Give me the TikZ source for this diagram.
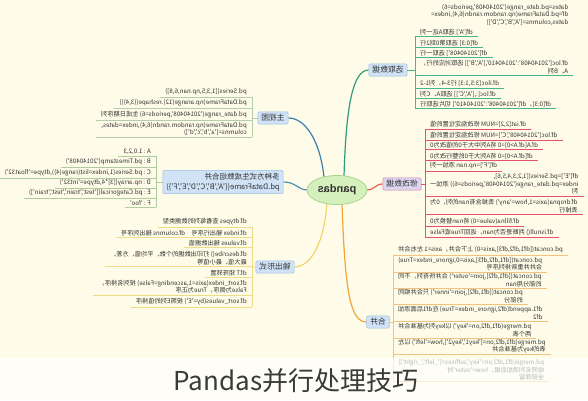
\documentclass[tikz,border=0pt]{standalone}
\usepackage{fontspec}
\setmainfont{Noto Sans CJK SC}[Ligatures=TeXOff]
\newfontfamily\latf{Liberation Sans}
\definecolor{bgc}{HTML}{FEFCE8}
\definecolor{txtc}{HTML}{333333}
\definecolor{capc}{HTML}{3A3A3A}
\definecolor{ctrfill}{HTML}{D5EFBD}
\definecolor{ctrbd}{HTML}{A9D68E}
\definecolor{cSel}{HTML}{2E9C78}
\definecolor{selln}{HTML}{4BB38E}
\definecolor{cMod}{HTML}{E2604F}
\definecolor{modln}{HTML}{E9506E}
\definecolor{cMer}{HTML}{F0A53C}
\definecolor{merln}{HTML}{F4C27C}
\definecolor{cZhu}{HTML}{3B7FAE}
\definecolor{zhuln}{HTML}{B5CCAD}
\definecolor{cGen}{HTML}{4B8FB2}
\definecolor{genln}{HTML}{AECCA0}
\definecolor{cOut}{HTML}{F0D46C}
\definecolor{outln}{HTML}{F1DC86}
\definecolor{tfill}{HTML}{CFE2F6}
\definecolor{tbd}{HTML}{9DBFE0}
\definecolor{modfill}{HTML}{DCD6F0}
\definecolor{modbd}{HTML}{E27AA0}
\pgfdeclarelayer{bgl}
\pgfdeclarelayer{lines}
\pgfsetlayers{bgl,lines,main}
\tikzset{
  leaf/.style={font=\fontsize{6.2}{7.4}\selectfont, text=txtc, inner xsep=5pt, inner ysep=1.4pt, align=left},
  leafR/.style={leaf, anchor=east},
  leafL/.style={leaf, anchor=west},
  topic/.style={font=\fontsize{7.8}{9.5}\selectfont, text=txtc, rounded corners=1.2pt, inner xsep=3.5pt, inner ysep=2.5pt, line width=0.5pt, draw=tbd, fill=tfill, align=left},
  ctrst/.style={ellipse, draw=ctrbd, fill=ctrfill, line width=0.8pt, minimum width=60pt, minimum height=29pt, inner sep=0pt, font=\latf\bfseries\fontsize{11}{13}\selectfont, text=txtc},
  conn/.style={line width=1.2pt},
  brk/.style={line width=0.6pt},
}
\usetikzlibrary{shapes.geometric}
\begin{document}
\begin{tikzpicture}[x=1pt,y=-1pt]
\begin{pgfonlayer}{bgl}
\fill[bgc] (0,0) rectangle (588,400);
\end{pgfonlayer}
\useasboundingbox (0,0) rectangle (588,400);
\begin{scope}[xscale=-1, transform shape, x={(-1pt,0pt)}]
  \node[ctrst] (ctr) at (337,190) {pandas};
  % branch topics
  \node[topic] (sel) at (388,70) {选取数据};
  \node[topic, draw=modbd, fill=modfill] (mod) at (402,184) {修改数据};
  \node[topic] (mer) at (378,322) {合并};
  \node[topic] (zhu) at (273,118) {主视图};
  \node[topic, font=\fontsize{7.5}{10}\selectfont] (gen) at (223,182) {多种方式生成数组合并\\pd.DataFrame(\{'A','B','C','D','E','F'\})};
  \node[topic] (out) at (275,267) {输出形式};
  % 选取数据
  \node[leafR] (s0) at (426,15) {dates=pd.date\_range('20140408',periods=6)\\df=pd.DataFrame(np.random.randn(6,4),index=\\dates,columns=['A','B','C','D'])};
  \node[leafR] (s1) at (415,32) {df['A'] 选取A这一列};
  \node[leafR] (s2) at (415,43) {df[0:3] 选取第0到2行};
  \node[leafR] (s3) at (415,53) {df['20140408'] 选取一行};
  \node[leafR] (s4) at (415,67) {df.loc['20140408':'20140410',['A','B']] 选取对应的行，\\A、B列};
  \node[leafR] (s5) at (415,83) {df.iloc[3:5,1:3] 行3-4，列1-2};
  \node[leafR] (s6) at (415,94) {df.loc[:,['A','C']] 选取A、C列};
  \node[leafR] (s7) at (415,104) {df[0:3]，df['20140408':'20140410'] 切片选取行};
  % 修改数据
  \node[leafR] (d1) at (425,124) {df.iat[2,2]=NUM 修改指定位置的值};
  \node[leafR] (d2) at (425,135) {df.loc['20140408','C']=NUM 修改指定位置的值};
  \node[leafR] (d3) at (425,145) {df.A[df.A>0]=0 将A列中大于0的值改为0};
  \node[leafR] (d4) at (425,156) {df[df.A>0]=0 将A列大于0的整行改为0};
  \node[leafR] (d5) at (425,166) {df['F']=np.nan 添加一列};
  \node[leafR] (d6) at (425,184) {df['E']=pd.Series([1,2,3,4,5,6],\\index=pd.date\_range('20140408',periods=6)) 添加一\\列};
  \node[leafR] (d7) at (425,206) {df.dropna(axis=1,how='any') 丢掉含有nan的列，0为\\丢掉行};
  \node[leafR] (d8) at (425,221) {df.fillna(value=0) 将nan替换为0};
  \node[leafR] (d9) at (425,232) {df.isnull() 判断是否为nan，返回True或False};
  % 合并
  \node[leafR] (m1) at (393,250) {pd.concat([df1,df2,df3],axis=0) 上下合并，axis=1 左右合并};
  \node[leafR] (m2) at (393,264) {pd.concat([df1,df2,df3],axis=0,ignore\_index=True)\\合并并重新排列序号};
  \node[leafR] (m3) at (393,280) {pd.concat([df1,df2],join='outer') 合并所有列，不同\\的部分用nan};
  \node[leafR] (m4) at (393,296) {pd.concat([df1,df2],join='inner') 只合并相同\\的部分};
  \node[leafR] (m5) at (393,313) {df1.append(df2,ignore\_index=True) 在df1后面添加\\df2};
  \node[leafR] (m6) at (393,330) {pd.merge(df1,df2,on='key') 以key列为基准合并\\两个表};
  \node[leafR] (m7) at (393,346) {pd.merge(df1,df2,on=['key1','key2'],how='left') 以左\\表的key为基准合并};
  \node[leafR] (m8) at (393,370) {pd.merge(df1,df2,on='key',suffixes=['\_left','\_right'])\\给同名列添加后缀，how='outer'时\\全部保留};
  % 主视图
  \node[leafL] (z1) at (252,92) {pd.Series([1,3,5,np.nan,6,8])};
  \node[leafL] (z2) at (252,103) {pd.DataFrame(np.arange(12).reshape((3,4)))};
  \node[leafL] (z3) at (252,115) {pd.date\_range('20140408',periods=6) 生成日期序列};
  \node[leafL] (z4) at (252,129) {pd.DataFrame(np.random.randn(6,4),index=dates,\\columns=['a','b','c','d'])};
  % 多种方式生成
  \node[leafL] (g1) at (156,152) {A : 1.0,2,3};
  \node[leafL] (g2) at (156,162) {B : pd.Timestamp('20140408')};
  \node[leafL] (g3) at (156,173) {C : pd.Series(1,index=list(range(4)),dtype='float32')};
  \node[leafL] (g4) at (156,183) {D : np.array([3]*4,dtype='int32')};
  \node[leafL] (g5) at (156,193) {E : pd.Categorical(['test','train','test','train'])};
  \node[leafL] (g6) at (156,203) {F : 'foo'};
  % 输出形式
  \node[leafL] (o1) at (252,222) {df.dtypes 查看每列的数据类型};
  \node[leafL] (o2) at (252,233) {df.index 输出行序号\quad df.columns 输出列序号};
  \node[leafL] (o3) at (252,243) {df.values 输出数据值};
  \node[leafL] (o4) at (252,258) {df.describe() 打印出数据的个数、平均值、方差、\\最大值、最小值等};
  \node[leafL] (o5) at (252,273) {df.T 矩阵转置};
  \node[leafL] (o6) at (252,287) {df.sort\_index(axis=1,ascending=False) 按列名排序，\\False为倒序，True为正序};
  \node[leafL] (o7) at (252,302) {df.sort\_values(by='E') 按照E列的值排序};
\end{scope}
% connectors from the centre
\begin{pgfonlayer}{lines}
  \draw[conn, cSel] ([xshift=7pt,yshift=-1pt]ctr.north) .. controls (346,110) and (352,70) .. (sel.east);
  \draw[conn, cMod] ([xshift=-1pt]ctr.west) .. controls (375,190) and (375,184) .. (mod.east);
  \draw[conn, cMer] ([xshift=5pt,yshift=1pt]ctr.south) .. controls (345,290) and (350,322) .. (mer.east);
  \draw[conn, cZhu] ([xshift=-13pt,yshift=-2pt]ctr.north) .. controls (320,140) and (305,118) .. (zhu.west);
  \draw[conn, cGen] ([xshift=1pt]ctr.east) .. controls (298,190) and (296,182) .. (gen.west);
  \draw[conn, cOut] ([xshift=-10pt,yshift=2pt]ctr.south) .. controls (324,245) and (310,267) .. (out.west);
\end{pgfonlayer}
% brackets and underlines
\draw[brk, selln] (s1.south east) -- (s7.south east);
\draw[brk, selln] (sel.west) -- (sel.west -| s1.south east);
\foreach \n in {s1,s2,s3,s4,s5,s6,s7} \draw[brk, selln] (\n.south west) -- (\n.south east);
\draw[brk, modln] (d1.south east) -- (d9.south east);
\draw[brk, modln] (mod.west) -- (mod.west -| d1.south east);
\foreach \n in {d1,d2,d3,d4,d5,d6,d7,d8,d9} \draw[brk, modln] (\n.south west) -- (\n.south east);
\draw[brk, merln] (m1.south east) -- (m8.south east);
\draw[brk, merln] (mer.west) -- (mer.west -| m1.south east);
\foreach \n in {m1,m2,m3,m4,m5,m6,m7,m8} \draw[brk, merln] (\n.south west) -- (\n.south east);
\draw[brk, zhuln] (z1.south west) -- (z4.south west);
\draw[brk, zhuln] (zhu.east) -- (zhu.east -| z1.south west);
\foreach \n in {z1,z2,z3,z4} \draw[brk, zhuln] (\n.south west) -- (\n.south east);
\draw[brk, genln] (g1.south west) -- (g6.south west);
\draw[brk, genln] (gen.east) -- (gen.east -| g1.south west);
\foreach \n in {g1,g2,g3,g4,g5,g6} \draw[brk, genln] (\n.south west) -- (\n.south east);
\draw[brk, outln] (o1.south west) -- (o7.south west);
\draw[brk, outln] (out.east) -- (out.east -| o1.south west);
\foreach \n in {o1,o2,o3,o4,o5,o6,o7} \draw[brk, outln] (\n.south west) -- (\n.south east);
% caption band
\fill[white, opacity=0.65] (0,358) rectangle (588,400);
\node[font=\fontsize{26}{30}\selectfont, text=capc, inner sep=0pt] (cap) at (296,381) {Pandas并行处理技巧};
\end{tikzpicture}
\end{document}
